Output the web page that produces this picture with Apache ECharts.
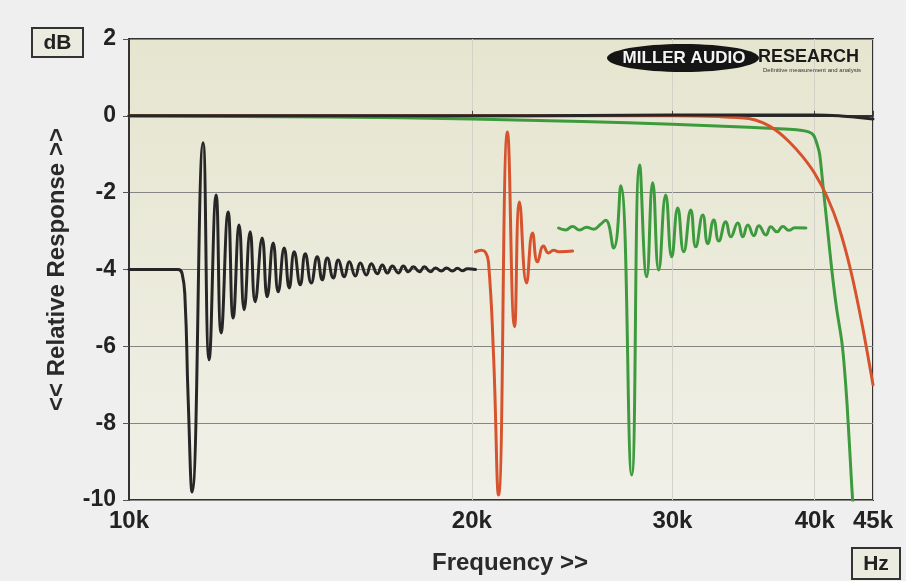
<!DOCTYPE html>
<html>
<head>
<meta charset="utf-8">
<script src="https://cdn.jsdelivr.net/npm/echarts@6/dist/echarts.min.js"></script>
<style>
html,body{margin:0;padding:0;background:#efefef;}
#chart{width:906px;height:581px;}
</style>
</head>
<body>
<div id="chart"></div>
<script>
// ---- axis ticks ----
const freqTicks = [10000, 20000, 30000, 40000, 45000];
const dbMin = -10, dbMax = 2, dbStep = 2;

// ---- frequency responses (Hz, dB) ----
const frFreqBlack = [10000, 15000, 20000, 25000, 30000, 35000, 40000, 42000, 43500, 45000];
const frBlack     = [0, 0, 0, 0.01, 0.02, 0.02, 0.02, 0.0, -0.04, -0.08];

const frFreqGreen = [10000, 15000, 20000, 25000, 30000, 35000, 38000, 39000, 39500, 39900, 40200, 40400, 40700, 41000, 41400, 41800, 42300, 42700, 43100, 43400];
const frGreen     = [0, -0.03, -0.08, -0.15, -0.22, -0.3, -0.35, -0.38, -0.42, -0.5, -0.75, -1.0, -1.9, -2.8, -4.0, -5.0, -6.0, -7.5, -9.6, -11];

const frFreqRed = [10000, 20000, 30000, 33000, 35000, 36000, 37000, 38000, 39000, 40000, 41000, 42000, 43000, 44000, 45000];
const frRed     = [0, 0, 0, -0.02, -0.07, -0.18, -0.38, -0.68, -1.05, -1.5, -2.1, -2.9, -4.0, -5.4, -7.0];

// ---- impulse responses (time samples, dB-scaled overlay) ----
const impBlackT = [0,49,53,56,59,63,74,80,87,92,99,104,110,115,121,126,133,138,144,149,155,160,165,171,176,182,188,193,198,204,209,215,220,226,231,237,242,248,253,258,263,269,274,279,284,290,295,301,306,312,317,323,328,333,338,346];
const impBlack  = [-4,-4,-4.1,-4.8,-7.3,-9.79,-0.70,-6.35,-2.06,-5.65,-2.5,-5.26,-2.84,-5.05,-3.02,-4.84,-3.18,-4.71,-3.31,-4.58,-3.44,-4.48,-3.54,-4.40,-3.59,-4.35,-3.67,-4.27,-3.70,-4.22,-3.75,-4.19,-3.80,-4.17,-3.83,-4.14,-3.85,-4.11,-3.88,-4.09,-3.91,-4.09,-3.91,-4.06,-3.93,-4.06,-3.93,-4.06,-3.96,-4.04,-3.96,-4.04,-3.97,-4.03,-3.98,-4.0];

const impRedT = [346,352,356,359,364,369,378,385,390,397,403,408,414,419,424,430,443];
const impRed  = [-3.54,-3.50,-3.55,-3.8,-6.2,-9.87,-0.42,-5.49,-2.24,-4.35,-3.05,-3.80,-3.39,-3.57,-3.50,-3.54,-3.52];

const impGreenT = [429,436,443,450,457,464,471,476,484,491,502,510,517,523,529,536,542,548,554,561,566,573,578,584,589,596,601,608,613,618,624,629,636,641,647,653,659,665,676];
const impGreen  = [-2.92,-2.97,-2.88,-2.97,-2.90,-2.95,-2.82,-2.72,-3.44,-1.82,-9.35,-1.28,-4.19,-1.74,-4.01,-2.06,-3.67,-2.40,-3.54,-2.45,-3.41,-2.58,-3.33,-2.71,-3.26,-2.76,-3.15,-2.79,-3.15,-2.84,-3.12,-2.86,-3.10,-2.89,-3.02,-2.88,-2.98,-2.91,-2.92];
const impSpan = 743;

const zip = (a, b) => a.map((v, i) => [v, b[i]]);

const BLACK = '#262626', RED = '#d6532d', GREEN = '#3d9b3d';
const FONT = 'Arial, "Liberation Sans", sans-serif';

const chart = echarts.init(document.getElementById('chart'), null, {renderer: 'canvas'});

function line(name, data, color, xIdx, z, smooth, width) {
  return {
    name, type: 'line', data, xAxisIndex: xIdx, yAxisIndex: 0,
    showSymbol: false, symbol: 'none', smooth: smooth, z: z,
    lineStyle: {color, width: width, cap: 'round', join: 'round'},
    animation: false, silent: true
  };
}

chart.setOption({
  backgroundColor: '#efefef',
  animation: false,
  grid: {
    left: 129, right: 33, top: 39, bottom: 81,
    show: true,
    borderColor: '#333', borderWidth: 2,
    backgroundColor: new echarts.graphic.LinearGradient(0, 0, 0, 1, [
      {offset: 0, color: '#e6e5cf'},
      {offset: 1, color: '#f0f0e8'}
    ])
  },
  xAxis: [{
    type: 'log', logBase: 10, min: 10000, max: 45000,
    name: 'Frequency >>', nameLocation: 'middle', nameGap: 51,
    nameTextStyle: {fontFamily: FONT, fontWeight: 'bold', fontSize: 24, color: '#2a2a2a', padding: [0, 0, 0, 18]},
    axisLine: {show: true, lineStyle: {color: '#333', width: 2}},
    axisTick: {show: true, inside: true, length: 5, customValues: freqTicks, lineStyle: {color: '#444', width: 1}},
    axisLabel: {customValues: freqTicks, formatter: v => (v / 1000) + 'k', fontFamily: FONT, fontWeight: 'bold', fontSize: 24, color: '#222', margin: 9},
    splitLine: {show: true, lineStyle: {color: '#d2d2c8', width: 1}},
    minorTick: {show: false}
  }, {
    type: 'value', min: 0, max: impSpan, show: false, gridIndex: 0
  }],
  yAxis: [{
    type: 'value', min: dbMin, max: dbMax, interval: dbStep,
    name: '<< Relative Response >>', nameLocation: 'middle', nameGap: 60, nameRotate: 90,
    nameTextStyle: {fontFamily: FONT, fontWeight: 'bold', fontSize: 24, color: '#2a2a2a'},
    axisLine: {show: true, lineStyle: {color: '#333', width: 2}},
    axisTick: {show: true, inside: false, length: 6, lineStyle: {color: '#555', width: 1}},
    axisLabel: {fontFamily: FONT, fontWeight: 'bold', fontSize: 23, color: '#222', margin: 13},
    splitLine: {show: true, lineStyle: {color: '#858585', width: 1}}
  }],
  series: [
    line('impulse black', zip(impBlackT, impBlack), BLACK, 1, 2, 0.5, 3),
    line('impulse red', zip(impRedT, impRed), RED, 1, 2, 0.5, 3),
    line('impulse green', zip(impGreenT, impGreen), GREEN, 1, 2, 0.5, 3),
    line('response green', zip(frFreqGreen, frGreen), GREEN, 0, 3, 0.3, 3),
    line('response red', zip(frFreqRed, frRed), RED, 0, 4, 0.3, 3),
    line('response black', zip(frFreqBlack, frBlack), BLACK, 0, 5, 0.3, 3)
  ],
  graphic: [
    {type: 'rect', shape: {x: 32, y: 28, width: 51, height: 29}, style: {fill: '#ebebdf', stroke: '#333', lineWidth: 2}, z: 10},
    {type: 'text', x: 57.5, y: 43, style: {text: 'dB', font: 'bold 21px ' + FONT, fill: '#222', align: 'center', verticalAlign: 'middle'}, z: 11},
    {type: 'rect', shape: {x: 852, y: 548, width: 48, height: 31}, style: {fill: '#ebebdf', stroke: '#333', lineWidth: 2}, z: 10},
    {type: 'text', x: 876, y: 564, style: {text: 'Hz', font: 'bold 21px ' + FONT, fill: '#222', align: 'center', verticalAlign: 'middle'}, z: 11},
    {type: 'ellipse', shape: {cx: 683, cy: 58, rx: 76, ry: 14}, style: {fill: '#151515'}, z: 10},
    {type: 'text', x: 684, y: 58, style: {text: 'MILLER AUDIO', font: 'bold 17px ' + FONT, fill: '#f4f4f4', align: 'center', verticalAlign: 'middle'}, z: 11},
    {type: 'text', x: 758, y: 57, style: {text: 'RESEARCH', font: 'bold 18px ' + FONT, fill: '#1a1a1a', align: 'left', verticalAlign: 'middle'}, z: 11},
    {type: 'text', x: 812, y: 70, style: {text: 'Definitive measurement and analysis', font: '6px ' + FONT, fill: '#333', align: 'center', verticalAlign: 'middle'}, z: 11}
  ]
});
</script>
</body>
</html>
